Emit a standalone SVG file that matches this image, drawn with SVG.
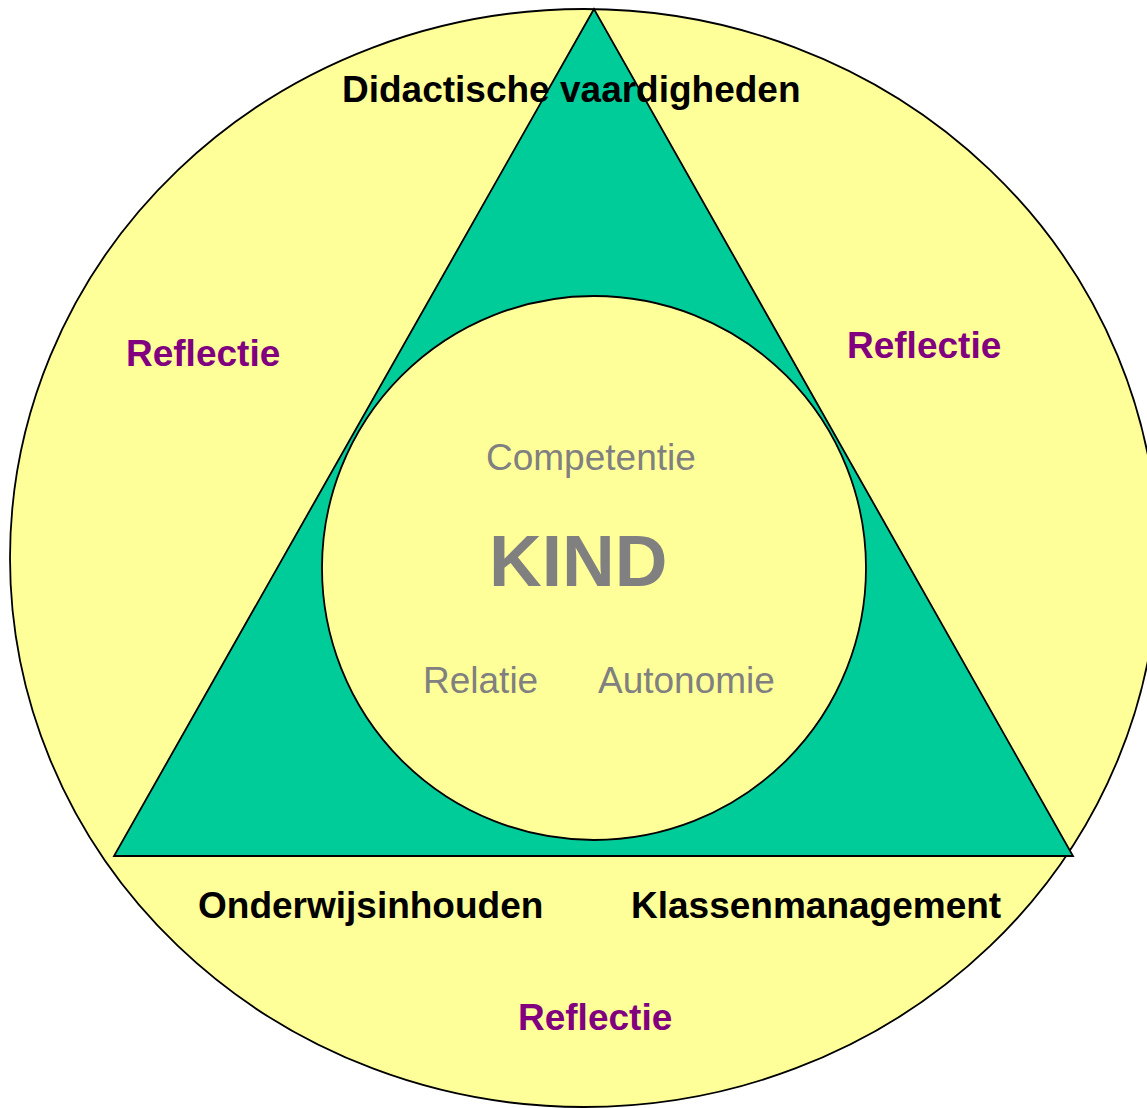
<svg xmlns="http://www.w3.org/2000/svg" width="1147" height="1108" viewBox="0 0 1147 1108">
<style>
.shape{stroke:#000;stroke-width:1.8}
.yel{fill:#FFFF99}
.grn{fill:#00CC99}
.lbl{font-family:"Liberation Sans",Arial,sans-serif;font-weight:bold;font-size:37px;fill:#000}
.refl{font-family:"Liberation Sans",Arial,sans-serif;font-weight:bold;font-size:37px;fill:#800080}
.gray{font-family:"Liberation Sans",Arial,sans-serif;font-size:37px;fill:#808080}
.kind{font-family:"Liberation Sans",Arial,sans-serif;font-weight:bold;font-size:73px;fill:#808080}
</style>
<rect width="1147" height="1108" fill="#fff"/>
<g id="outer"><ellipse class="shape yel" cx="584" cy="558" rx="574" ry="549"/></g>
<g id="triangle"><polygon class="shape grn" points="594,9 114,856 1073,856"/></g>
<g id="inner"><circle class="shape yel" cx="594" cy="568" r="272"/></g>
<g id="connectors"></g>
<g id="labels">
<text class="lbl" x="342" y="102">Didactische vaardigheden</text>
<text class="refl" x="126" y="366">Reflectie</text>
<text class="refl" x="847" y="358">Reflectie</text>
<text class="refl" x="518" y="1030">Reflectie</text>
<text class="lbl" x="198" y="918">Onderwijsinhouden</text>
<text class="lbl" x="631" y="918">Klassenmanagement</text>
<text class="gray" x="486" y="470">Competentie</text>
<text class="kind" x="489" y="586">KIND</text>
<text class="gray" x="423" y="693">Relatie</text>
<text class="gray" x="598" y="693">Autonomie</text>
</g>
</svg>
